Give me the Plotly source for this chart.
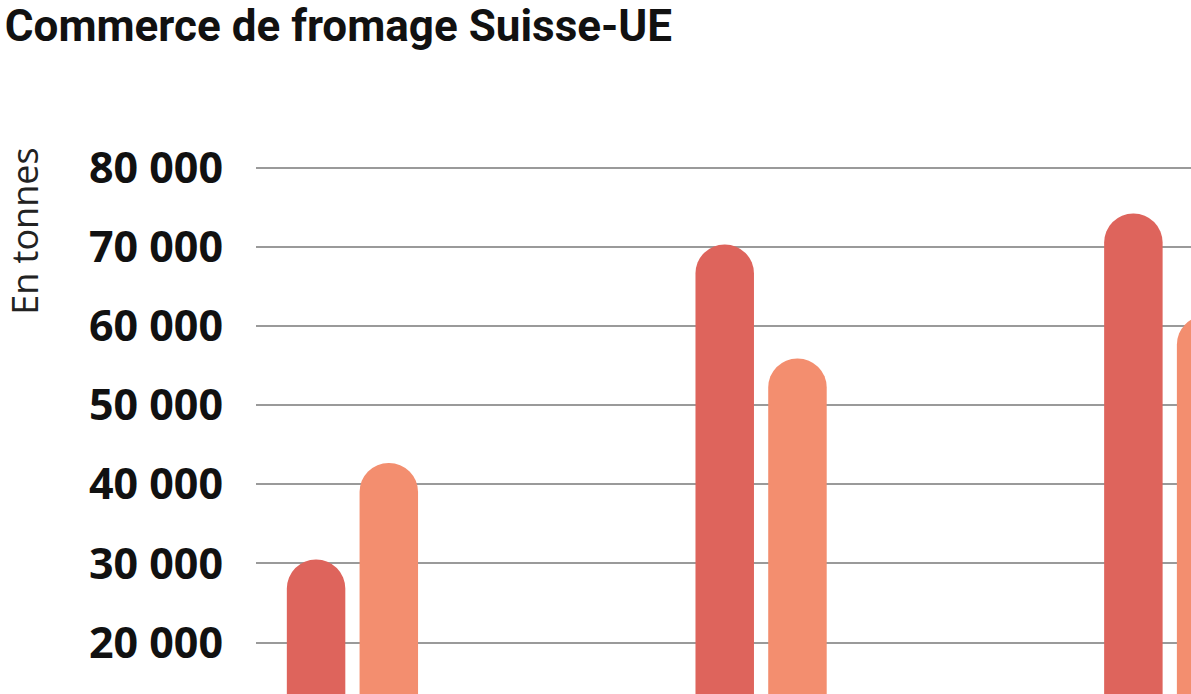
import plotly.graph_objects as go

# ===============================
# DATA
# ===============================
annees = ["2002", "2012", "2022"]
importations = [30500, 70300, 74200]
exportations = [42700, 55900, 61300]

rouge = "#DE645C"
saumon = "#F38E6F"

# ===============================
# FIGURE
# ===============================
fig = go.Figure()

fig.add_trace(go.Bar(
    x=annees,
    y=importations,
    name="Importations depuis l'UE",
    marker=dict(color=rouge, line=dict(width=0)),
))

fig.add_trace(go.Bar(
    x=annees,
    y=exportations,
    name="Exportations vers l'UE",
    marker=dict(color=saumon, line=dict(width=0)),
))

fig.update_layout(
    width=1191,
    height=694,
    margin=dict(l=256, r=0, t=100, b=0, autoexpand=False),
    paper_bgcolor="white",
    plot_bgcolor="white",
    showlegend=False,
    barmode="group",
    bargap=0.644,
    bargroupgap=0.196,
    barcornerradius="50%",
    separators=", ",
    title=dict(
        text="<b>Commerce de fromage Suisse-UE</b>",
        font=dict(family="Roboto, sans-serif", size=44, color="#111"),
        x=0.004,
        xanchor="left",
        xref="container",
        y=0.986,
        yanchor="top",
        yref="container",
        automargin=False,
    ),
)

# titre de l'axe y, place a gauche des etiquettes
fig.add_annotation(
    text="En tonnes",
    textangle=-90,
    xref="paper", yref="paper",
    x=0, y=0.778,
    xanchor="center", yanchor="middle",
    xshift=-231,
    showarrow=False,
    font=dict(family="Open Sans", size=36, color="#222"),
)

fig.update_xaxes(
    range=[-0.236, 2.052],
    showticklabels=False,
    showgrid=False,
    showline=False,
    zeroline=False,
    automargin=False,
)

fig.update_yaxes(
    range=[13506, 88553],
    tickvals=[20000, 30000, 40000, 50000, 60000, 70000, 80000],
    tickformat=",d",
    tickfont=dict(family="Open Sans", size=43, color="#111", weight="bold"),
    ticklabelstandoff=32,
    showgrid=True,
    gridcolor="#9a9a9a",
    gridwidth=1.5,
    zeroline=False,
    showline=False,
    automargin=False,
)

# sans la marge par defaut du body, la figure remplit toute la fenetre
fig.write_html(
    "out.html",
    config={"displayModeBar": False},
    post_script="document.body.style.margin = '0';",
)
